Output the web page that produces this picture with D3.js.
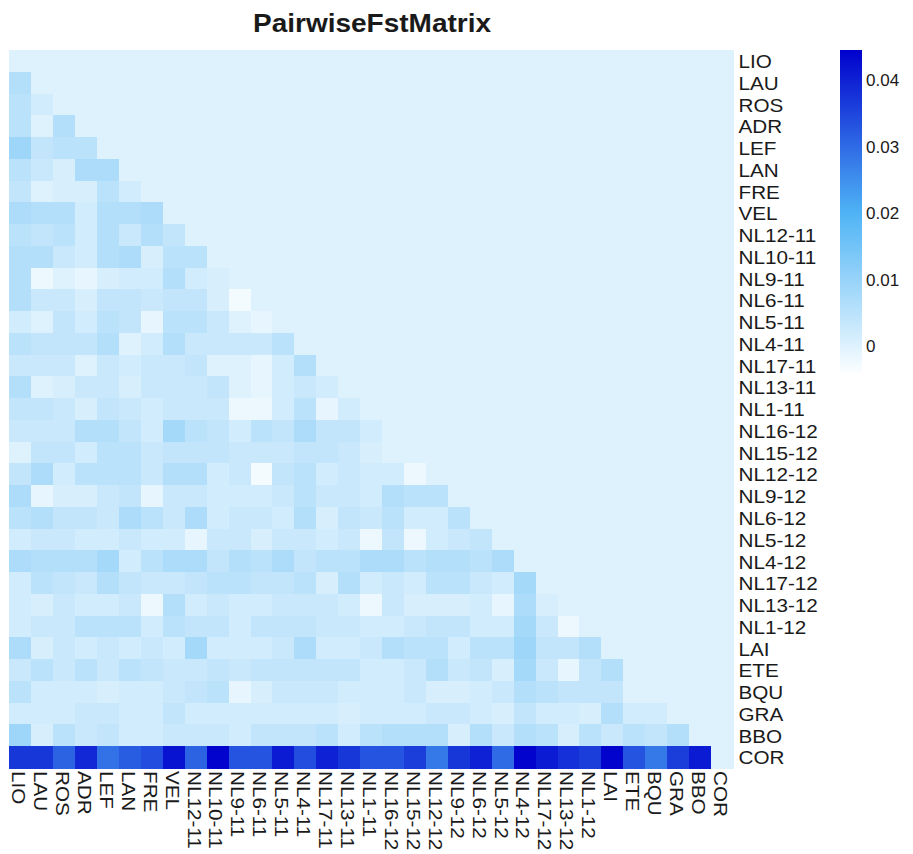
<!DOCTYPE html>
<html>
<head>
<meta charset="utf-8">
<script src="https://cdn.jsdelivr.net/npm/d3@7"></script>
<style>
  html, body { margin: 0; padding: 0; background: #ffffff; }
  text { font-family: "Liberation Sans", Arial, sans-serif; fill: #1a1a1a; }
</style>
</head>
<body>
<svg id="chart" width="913" height="854"></svg>
<script>
// ---- Data ----
const populations = ["LIO","LAU","ROS","ADR","LEF","LAN","FRE","VEL","NL12-11","NL10-11","NL9-11","NL6-11","NL5-11","NL4-11","NL17-11","NL13-11","NL1-11","NL16-12","NL15-12","NL12-12","NL9-12","NL6-12","NL5-12","NL4-12","NL17-12","NL13-12","NL1-12","LAI","ETE","BQU","GRA","BBO","COR"];

// lower-triangle pairwise Fst, one array per row (values vs. preceding populations)
const fstLIO = [];
const fstLAU = [0.006];
const fstROS = [0.005, 0.002];
const fstADR = [0.005, 0.000, 0.006];
const fstLEF = [0.009, 0.004, 0.005, 0.005];
const fstLAN = [0.005, 0.003, 0.001, 0.007, 0.007];
const fstFRE = [0.004, 0.000, 0.001, 0.001, 0.005, 0.002];
const fstVEL = [0.007, 0.006, 0.006, 0.002, 0.006, 0.006, 0.007];
const fstNL12_11 = [0.005, 0.004, 0.005, 0.002, 0.006, 0.003, 0.006, 0.004];
const fstNL10_11 = [0.006, 0.006, 0.003, 0.002, 0.006, 0.007, 0.001, 0.005, 0.005];
const fstNL9_11 = [0.006, -0.002, 0.000, -0.001, 0.001, 0.002, 0.002, 0.006, 0.002, 0.001];
const fstNL6_11 = [0.006, 0.003, 0.003, 0.001, 0.004, 0.004, 0.003, 0.004, 0.004, 0.001, -0.003];
const fstNL5_11 = [0.002, 0.000, 0.004, 0.002, 0.005, 0.004, -0.001, 0.005, 0.005, 0.003, 0.000, -0.001];
const fstNL4_11 = [0.005, 0.004, 0.004, 0.004, 0.006, 0.000, 0.002, 0.006, 0.003, 0.003, 0.003, 0.003, 0.005];
const fstNL17_11 = [0.003, 0.003, 0.003, 0.000, 0.003, 0.002, 0.003, 0.003, 0.004, 0.000, 0.000, -0.001, 0.002, 0.006];
const fstNL13_11 = [0.006, 0.000, 0.001, 0.003, 0.003, 0.001, 0.003, 0.003, 0.003, 0.004, 0.000, -0.001, 0.002, 0.003, 0.002];
const fstNL1_11 = [0.004, 0.004, 0.003, 0.001, 0.004, 0.003, 0.002, 0.003, 0.003, 0.003, -0.002, -0.002, 0.002, 0.005, -0.001, 0.002];
const fstNL16_12 = [0.003, 0.003, 0.003, 0.006, 0.006, 0.004, 0.002, 0.008, 0.005, 0.004, 0.002, 0.005, 0.004, 0.007, 0.004, 0.004, 0.002];
const fstNL15_12 = [0.000, 0.004, 0.004, 0.002, 0.005, 0.005, 0.003, 0.004, 0.004, 0.004, 0.003, 0.003, 0.003, 0.004, 0.004, 0.003, 0.001, 0.000];
const fstNL12_12 = [0.004, 0.007, 0.002, 0.005, 0.005, 0.005, 0.003, 0.006, 0.006, 0.002, 0.003, -0.003, 0.004, 0.005, 0.002, 0.003, 0.002, 0.002, -0.002];
const fstNL9_12 = [0.007, -0.001, 0.001, 0.001, 0.003, 0.004, -0.001, 0.003, 0.003, 0.002, 0.002, 0.002, 0.003, 0.005, 0.003, 0.003, 0.002, 0.006, 0.005, 0.005];
const fstNL6_12 = [0.005, 0.006, 0.004, 0.004, 0.003, 0.007, 0.005, 0.003, 0.007, 0.002, 0.003, 0.003, 0.002, 0.006, 0.001, 0.004, 0.003, 0.005, 0.002, 0.002, 0.005];
const fstNL5_12 = [0.002, 0.003, 0.003, 0.002, 0.002, 0.003, 0.002, 0.002, -0.001, 0.003, 0.003, 0.001, 0.003, 0.003, 0.002, 0.003, -0.002, 0.004, -0.002, 0.002, 0.003, 0.004];
const fstNL4_12 = [0.007, 0.006, 0.006, 0.006, 0.008, 0.002, 0.005, 0.007, 0.007, 0.004, 0.006, 0.005, 0.007, 0.004, 0.005, 0.005, 0.007, 0.007, 0.005, 0.006, 0.006, 0.005, 0.007];
const fstNL17_12 = [0.002, 0.005, 0.004, 0.003, 0.006, 0.004, 0.003, 0.003, 0.004, 0.005, 0.005, 0.004, 0.004, 0.005, 0.001, 0.006, 0.002, 0.003, 0.002, 0.005, 0.005, 0.003, 0.002, 0.008];
const fstNL13_12 = [0.002, 0.001, 0.003, 0.002, 0.002, 0.003, -0.002, 0.006, 0.002, 0.003, 0.002, 0.002, 0.003, 0.003, 0.003, 0.002, -0.002, 0.003, 0.001, 0.001, 0.001, 0.002, -0.001, 0.007, 0.001];
const fstNL1_12 = [0.002, 0.003, 0.003, 0.005, 0.005, 0.005, 0.002, 0.005, 0.004, 0.004, 0.002, 0.004, 0.004, 0.004, 0.003, 0.003, 0.002, 0.002, 0.003, 0.004, 0.004, 0.002, 0.002, 0.008, 0.003, -0.002];
const fstLAI = [0.007, 0.001, 0.003, 0.002, 0.003, 0.002, 0.003, 0.002, 0.008, 0.002, 0.002, 0.002, 0.003, 0.007, 0.002, 0.002, 0.003, 0.006, 0.005, 0.005, 0.002, 0.005, 0.005, 0.009, 0.004, 0.004, 0.006];
const fstETE = [0.003, 0.005, 0.003, 0.005, 0.003, 0.005, 0.004, 0.003, 0.003, 0.004, 0.003, 0.004, 0.004, 0.004, 0.004, 0.004, 0.002, 0.002, 0.003, 0.006, 0.003, 0.004, 0.001, 0.008, 0.003, -0.001, 0.004, 0.006];
const fstBQU = [0.005, 0.002, 0.002, 0.002, 0.001, 0.002, 0.002, 0.003, 0.004, 0.005, -0.001, 0.001, 0.003, 0.003, 0.003, 0.002, 0.002, 0.002, 0.003, 0.001, 0.001, 0.002, 0.003, 0.006, 0.005, 0.004, 0.004, 0.004, 0.000];
const fstGRA = [0.002, 0.002, 0.002, 0.003, 0.003, 0.002, 0.002, 0.004, 0.002, 0.002, 0.002, 0.002, 0.002, 0.002, 0.002, 0.001, 0.002, 0.002, 0.002, 0.003, 0.003, 0.002, 0.001, 0.004, 0.002, 0.002, 0.001, 0.006, 0.002, 0.002];
const fstBBO = [0.009, 0.001, 0.005, 0.003, 0.004, 0.002, 0.002, 0.003, 0.003, 0.003, 0.002, 0.004, 0.004, 0.004, 0.005, 0.002, 0.005, 0.006, 0.006, 0.006, 0.001, 0.006, 0.003, 0.006, 0.005, 0.001, 0.005, 0.003, 0.005, 0.004, 0.006];
const fstCOR = [0.037, 0.037, 0.031, 0.039, 0.029, 0.032, 0.034, 0.042, 0.031, 0.044, 0.033, 0.033, 0.041, 0.034, 0.040, 0.037, 0.033, 0.033, 0.036, 0.028, 0.037, 0.040, 0.030, 0.044, 0.041, 0.038, 0.036, 0.044, 0.033, 0.028, 0.036, 0.041];

const fstRows = [fstLIO, fstLAU, fstROS, fstADR, fstLEF, fstLAN, fstFRE, fstVEL, fstNL12_11, fstNL10_11, fstNL9_11, fstNL6_11, fstNL5_11, fstNL4_11, fstNL17_11, fstNL13_11, fstNL1_11, fstNL16_12, fstNL15_12, fstNL12_12, fstNL9_12, fstNL6_12, fstNL5_12, fstNL4_12, fstNL17_12, fstNL13_12, fstNL1_12, fstLAI, fstETE, fstBQU, fstGRA, fstBBO, fstCOR];

const legendTicks = [0, 0.01, 0.02, 0.03, 0.04];
const colorDomain = [-0.004, 0.02, 0.0445];
const colorRange = ["#fbfeff", "#4fb4f5", "#0000cd"];

// ---- Build cells (upper triangle & diagonal = 0) ----
const cells = [];
populations.forEach((rowPop, i) => {
  populations.forEach((colPop, j) => {
    const v = j < i ? fstRows[i][j] : 0;
    cells.push({ row: rowPop, col: colPop, value: v });
  });
});

// ---- Drawing ----
const svg = d3.select("#chart");
const x = d3.scaleBand().domain(populations).range([9.3, 733]).padding(0);
const y = d3.scaleBand().domain(populations).range([50, 768]).padding(0);
const color = d3.scaleLinear().domain(colorDomain).range(colorRange).clamp(true);

svg.append("g").selectAll("rect").data(cells).join("rect")
  .attr("x", d => x(d.col))
  .attr("y", d => y(d.row))
  .attr("width", x.bandwidth() + 0.5)
  .attr("height", y.bandwidth() + 0.5)
  .attr("fill", d => color(d.value))
  .attr("shape-rendering", "crispEdges");

// Title
svg.append("text")
  .attr("transform", `translate(372,32) scale(1.12,1)`)
  .attr("text-anchor", "middle")
  .style("font-weight", "bold")
  .style("font-size", "25px")
  .text("PairwiseFstMatrix");

// Row labels (right)
svg.append("g").selectAll("text").data(populations).join("text")
  .attr("transform", d => `translate(738.5,${y(d) + y.bandwidth() / 2 + 7.2}) scale(1.15,1)`)
  .style("font-size", "18px")
  .text(d => d);

// Column labels (bottom, rotated)
svg.append("g").selectAll("text").data(populations).join("text")
  .attr("transform", d => `translate(${x(d) + x.bandwidth() / 2 - 8.2},771) rotate(90) scale(1.15,1)`)
  .style("font-size", "18px")
  .text(d => d);

// Legend color bar
const legendY = d3.scaleLinear().domain([colorDomain[0], colorDomain[2]]).range([373, 50]);
const defs = svg.append("defs");
const grad = defs.append("linearGradient").attr("id", "fstGrad")
  .attr("x1", 0).attr("y1", 1).attr("x2", 0).attr("y2", 0);
d3.range(0, 1.0001, 0.05).forEach(t => {
  const v = colorDomain[0] + t * (colorDomain[2] - colorDomain[0]);
  grad.append("stop").attr("offset", t).attr("stop-color", color(v));
});
svg.append("rect")
  .attr("x", 840).attr("y", legendY(colorDomain[2]))
  .attr("width", 22).attr("height", legendY(colorDomain[0]) - legendY(colorDomain[2]))
  .attr("fill", "url(#fstGrad)");

svg.append("g").selectAll("text").data(legendTicks).join("text")
  .attr("x", 866)
  .attr("y", d => legendY(d) + 6)
  .style("font-size", "17px")
  .text(d => d3.format("")(d));
</script>
</body>
</html>
